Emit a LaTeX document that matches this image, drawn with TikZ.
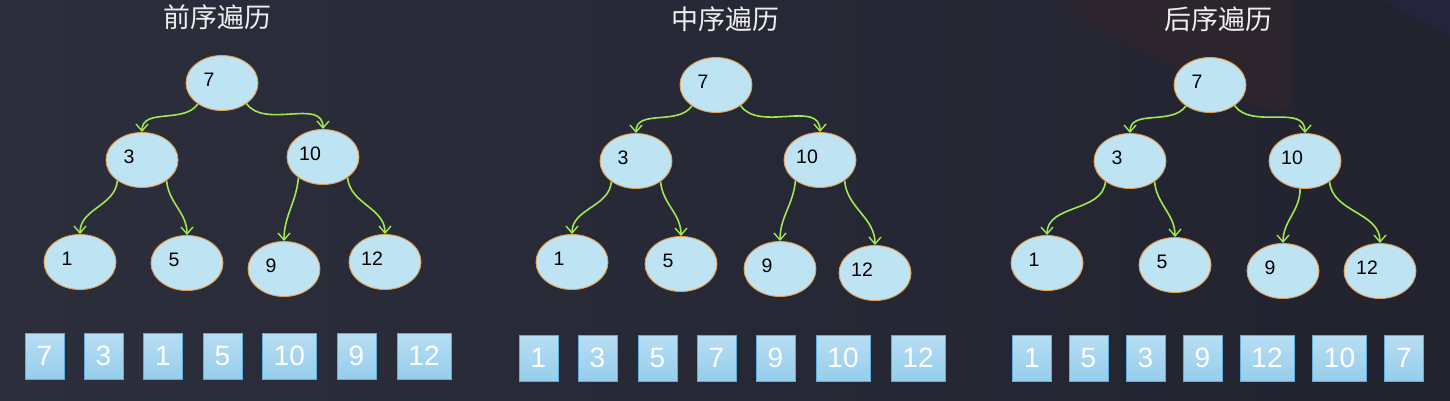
\documentclass[tikz,border=0pt]{standalone}
\usepackage{fontspec}
\setmainfont{Liberation Sans}
\newfontfamily\cjk{Noto Sans CJK SC}
\usetikzlibrary{arrows.meta,shapes.geometric}
\definecolor{bgA}{RGB}{44,46,60}
\definecolor{bgB}{RGB}{34,35,47}
\definecolor{blobc}{RGB}{45,37,45}
\definecolor{cornerc}{RGB}{38,36,60}
\definecolor{elfill}{RGB}{190,227,243}
\definecolor{elline}{RGB}{228,160,78}
\definecolor{edgec}{RGB}{160,232,80}
\definecolor{boxtop}{RGB}{183,222,243}
\definecolor{boxbot}{RGB}{150,205,236}
\definecolor{boxline}{RGB}{95,175,220}
\definecolor{titlec}{RGB}{238,238,238}
\tikzset{
  el/.style={ellipse, draw=elline, fill=elfill, line width=0.9pt,
    minimum width=72pt, minimum height=55pt, inner sep=0pt},
  nl/.style={anchor=west, xshift=-13pt, yshift=3pt, inner sep=0pt,
    text=black, font=\fontsize{19.5}{19.5}\selectfont},
  ed/.style={draw=edgec, line width=1.6pt,
    -{Straight Barb[length=7pt,width=12pt,line width=1.4pt]}},
  ttl/.style={text=titlec, font=\cjk\fontsize{27}{27}\selectfont, inner sep=0pt},
  bx/.style={draw=boxline, line width=0.8pt, top color=boxtop, bottom color=boxbot,
    minimum height=46pt, minimum width=39pt, inner sep=0pt, text=white,
    font=\fontsize{28}{28}\selectfont},
  wbx/.style={bx, minimum width=54pt}
}
\begin{document}
\begin{tikzpicture}[x=1pt,y=1pt]
\useasboundingbox (0,0) rectangle (1450,-400);
% background
\fill[left color=bgA, right color=bgB] (0,0) rectangle (1450,-400);
\fill[blobc] (1066,0) .. controls (1085,-30) and (1150,-55) .. (1215,-85)
  .. controls (1250,-105) and (1275,-118) .. (1288,-108)
  .. controls (1294,-100) and (1293,-80) .. (1293,-60) -- (1293,0) -- cycle;
\fill[cornerc] (1383,0) -- (1450,0) -- (1450,-36) .. controls (1425,-22) and (1400,-10) .. cycle;

% ---------- tree 1 ----------
\node[ttl] (t1) at (217,-17) {前序遍历};
\node[el, label={[nl]center:7}]  (a7)  at (222,-83) {};
\node[el, label={[nl]center:3}]  (a3)  at (142,-160) {};
\node[el, label={[nl]center:10}] (a10) at (323,-157) {};
\node[el, label={[nl]center:1}]  (a1)  at (80,-262) {};
\node[el, label={[nl]center:5}]  (a5)  at (187,-263) {};
\node[el, label={[nl]center:9}]  (a9)  at (284,-269) {};
\node[el, label={[nl]center:12}] (a12) at (385,-262) {};
\draw[ed] (a7.221) to[out=-125,in=90] (a3.north);
\draw[ed] (a7.320) to[out=-55,in=90] (a10.north);
\draw[ed] (a3.220) to[out=-95,in=90] (a1.north);
\draw[ed] (a3.320) to[out=-85,in=90] (a5.north);
\draw[ed] (a10.220) to[out=-95,in=90] (a9.north);
\draw[ed] (a10.320) to[out=-85,in=90] (a12.north);

% ---------- tree 2 ----------
\node[ttl] (t2) at (725,-19) {中序遍历};
\node[el, label={[nl]center:7}]  (b7)  at (716,-85) {};
\node[el, label={[nl]center:3}]  (b3)  at (636,-161) {};
\node[el, label={[nl]center:10}] (b10) at (820,-160) {};
\node[el, label={[nl]center:1}]  (b1)  at (572,-262) {};
\node[el, label={[nl]center:5}]  (b5)  at (681,-264) {};
\node[el, label={[nl]center:9}]  (b9)  at (780,-269) {};
\node[el, label={[nl]center:12}] (b12) at (875,-273) {};
\draw[ed] (b7.221) to[out=-125,in=90] (b3.north);
\draw[ed] (b7.320) to[out=-55,in=90] (b10.north);
\draw[ed] (b3.220) to[out=-95,in=90] (b1.north);
\draw[ed] (b3.320) to[out=-85,in=90] (b5.north);
\draw[ed] (b10.220) to[out=-95,in=90] (b9.north);
\draw[ed] (b10.320) to[out=-85,in=90] (b12.north);

% ---------- tree 3 ----------
\node[ttl] (t3) at (1218,-19) {后序遍历};
\node[el, label={[nl]center:7}]  (c7)  at (1210,-85) {};
\node[el, label={[nl]center:3}]  (c3)  at (1130,-161) {};
\node[el, label={[nl]center:10}] (c10) at (1305,-161) {};
\node[el, label={[nl]center:1}]  (c1)  at (1047,-263) {};
\node[el, label={[nl]center:5}]  (c5)  at (1175,-265) {};
\node[el, label={[nl]center:9}]  (c9)  at (1283,-271) {};
\node[el, label={[nl]center:12}] (c12) at (1380,-271) {};
\draw[ed] (c7.221) to[out=-125,in=90] (c3.north);
\draw[ed] (c7.320) to[out=-55,in=90] (c10.north);
\draw[ed] (c3.220) to[out=-95,in=90] (c1.north);
\draw[ed] (c3.320) to[out=-85,in=90] (c5.north);
\draw[ed] (c10.260) to[out=-90,in=90] (c9.north);
\draw[ed] (c10.320) to[out=-85,in=90] (c12.north);

% ---------- result rows ----------
\node[bx]  (p1) at (44.5,-356)  {7};
\node[bx]  (p2) at (103.5,-356) {3};
\node[bx]  (p3) at (163,-356)   {1};
\node[bx]  (p4) at (222.5,-356) {5};
\node[wbx] (p5) at (289.5,-356) {10};
\node[bx]  (p6) at (356.5,-356) {9};
\node[wbx] (p7) at (424,-356)   {12};

\node[bx]  (q1) at (538.5,-358) {1};
\node[bx]  (q2) at (597.5,-358) {3};
\node[bx]  (q3) at (657.5,-358) {5};
\node[bx]  (q4) at (716.5,-358) {7};
\node[bx]  (q5) at (775.5,-358) {9};
\node[wbx] (q6) at (843,-358)   {10};
\node[wbx] (q7) at (918,-358)   {12};

\node[bx]  (r1) at (1032,-358)   {1};
\node[bx]  (r2) at (1088.5,-358) {5};
\node[bx]  (r3) at (1145.5,-358) {3};
\node[bx]  (r4) at (1202.5,-358) {9};
\node[wbx] (r5) at (1267,-358)   {12};
\node[wbx] (r6) at (1339.5,-358) {10};
\node[bx]  (r7) at (1404,-358)   {7};
\end{tikzpicture}
\end{document}
